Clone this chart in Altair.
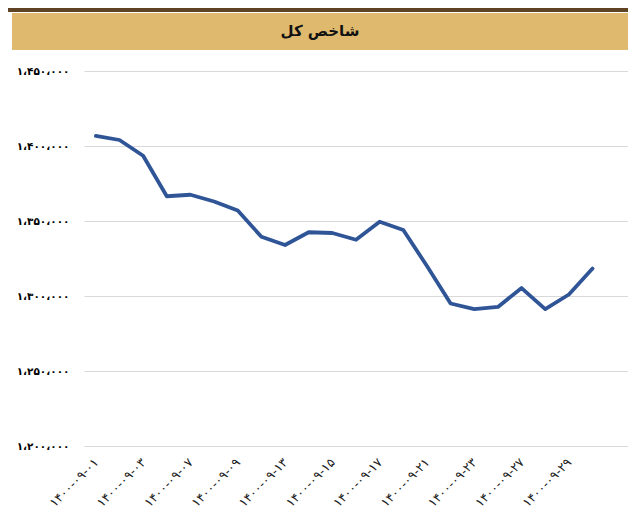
import altair as alt
import pandas as pd

dates = ["۱۴۰۰-۰۹-۰۱", "۱۴۰۰-۰۹-۰۲", "۱۴۰۰-۰۹-۰۳", "۱۴۰۰-۰۹-۰۶", "۱۴۰۰-۰۹-۰۷",
         "۱۴۰۰-۰۹-۰۸", "۱۴۰۰-۰۹-۰۹", "۱۴۰۰-۰۹-۱۰", "۱۴۰۰-۰۹-۱۳", "۱۴۰۰-۰۹-۱۴",
         "۱۴۰۰-۰۹-۱۵", "۱۴۰۰-۰۹-۱۶", "۱۴۰۰-۰۹-۱۷", "۱۴۰۰-۰۹-۲۰", "۱۴۰۰-۰۹-۲۱",
         "۱۴۰۰-۰۹-۲۲", "۱۴۰۰-۰۹-۲۳", "۱۴۰۰-۰۹-۲۴", "۱۴۰۰-۰۹-۲۷", "۱۴۰۰-۰۹-۲۸",
         "۱۴۰۰-۰۹-۲۹", "۱۴۰۰-۰۹-۳۰"]
values = [1406700, 1404000, 1393500, 1366500, 1367500, 1363000, 1357000, 1339500,
          1334000, 1342500, 1342000, 1337500, 1349500, 1344000, 1320000, 1295000,
          1291300, 1292700, 1305300, 1291300, 1301000, 1318300]

y_ticks = [1200000, 1250000, 1300000, 1350000, 1400000, 1450000]
y_labels = ["۱،۲۰۰،۰۰۰", "۱،۲۵۰،۰۰۰", "۱،۳۰۰،۰۰۰", "۱،۳۵۰،۰۰۰", "۱،۴۰۰،۰۰۰", "۱،۴۵۰،۰۰۰"]
title_text = "شاخص کل"

df = pd.DataFrame({"date": dates, "value": values})
df_title = pd.DataFrame({"t": [title_text]})

FONT = "DejaVu Sans"
W, H = 544, 375

label_map = "{" + ",".join(f"'{v}':'{l}'" for v, l in zip(y_ticks, y_labels)) + "}"

line = alt.Chart(df).mark_line(color="#2F5597", strokeWidth=3.8, strokeJoin="round", strokeCap="round").encode(
    x=alt.X("date:O",
            scale=alt.Scale(type="point", domain=dates, padding=1, align=0.25),
            axis=alt.Axis(values=dates[::2], labelAngle=-45, labelAlign="right", labelBaseline="middle",
                          labelPadding=14, labelFont=FONT, labelFontSize=12.5, labelColor="#222222",
                          domain=False, ticks=False, grid=False, title=None, labelOverlap=False)),
    y=alt.Y("value:Q",
            scale=alt.Scale(domain=[1200000, 1450000], nice=False, zero=False),
            axis=alt.Axis(values=y_ticks, labelExpr=label_map + "[datum.value]",
                          grid=True, gridColor="#d9d9d9", gridWidth=1.2, domain=False, ticks=False,
                          labelPadding=15, labelFont=FONT, labelFontSize=10.5, labelFontWeight="bold",
                          labelColor="#000000", title=None)),
)

brown = alt.Chart(df_title).mark_rect(color="#5E4424").encode(
    x=alt.value(-76), x2=alt.value(W), y=alt.value(-63), y2=alt.value(-59))
banner = alt.Chart(df_title).mark_rect(color="#DFBA6E").encode(
    x=alt.value(-72), x2=alt.value(W), y=alt.value(-58), y2=alt.value(-21))
title = alt.Chart(df_title).mark_text(font=FONT, fontSize=15, fontWeight="bold", color="#111111",
                                       align="center", baseline="middle").encode(
    x=alt.value(236), y=alt.value(-40), text="t:N")

chart = alt.layer(brown, banner, title, line).properties(
    width=W, height=H,
    autosize=alt.AutoSizeParams(type="none"),
    padding={"left": 76, "top": 63, "right": 0, "bottom": 64},
    background="white",
).configure_view(stroke=None)

chart.save("out.html", embed_options={"renderer": "svg", "actions": False})
